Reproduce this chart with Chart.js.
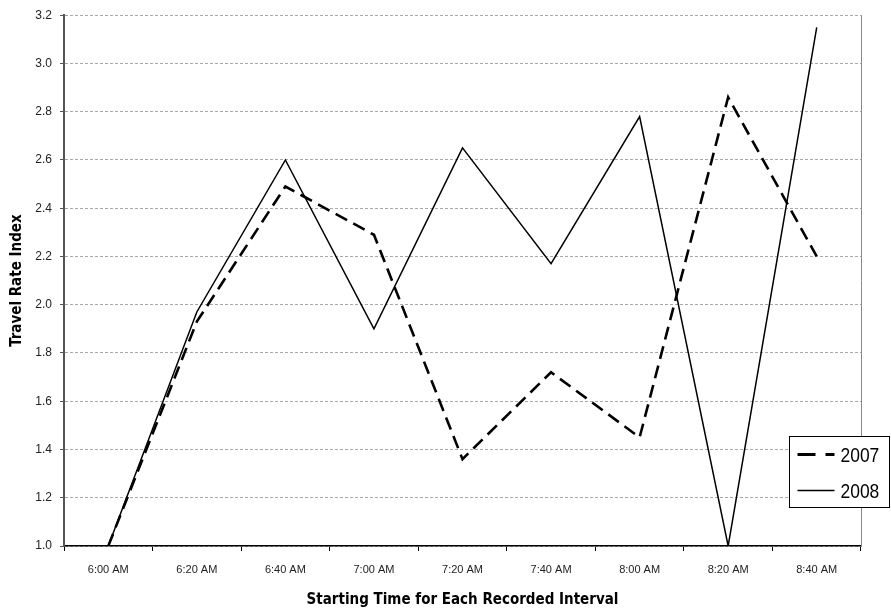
<!DOCTYPE html>
<html>
<head>
<meta charset="utf-8">
<script src="https://cdn.jsdelivr.net/npm/chart.js@4"></script>
<style>
  html, body { margin: 0; padding: 0; background: #fff; }
  #wrap { width: 891px; height: 614px; position: relative; }
</style>
</head>
<body>
<div id="wrap"><canvas id="chartTri"></canvas></div>
<script>
// ── Data ─────────────────────────────────
const timeLabels = ['6:00 AM', '6:20 AM', '6:40 AM', '7:00 AM', '7:20 AM', '7:40 AM', '8:00 AM', '8:20 AM', '8:40 AM'];
const tri2007    = [1.00, 1.93, 2.49, 2.29, 1.36, 1.72, 1.45, 2.86, 2.20];
const tri2008    = [1.00, 1.97, 2.60, 1.90, 2.65, 2.17, 2.78, 1.00, 3.15];
const yMin = 1.0, yMax = 3.2, yStep = 0.2;

const condensed = "'DejaVu Sans Condensed', 'DejaVu Sans', sans-serif";
const tickFont  = "'Liberation Sans', Arial, sans-serif";

// ── Plugin: right border + boxed legend ──
const frameLegend = {
    id: 'frameLegend',
    beforeDatasetsDraw(chart) {
        const a = chart.chartArea, ctx = chart.ctx;
        ctx.save();
        ctx.strokeStyle = '#8a8a8a';
        ctx.lineWidth = 1;
        ctx.beginPath();
        ctx.moveTo(Math.round(a.right) + 0.5, a.top);
        ctx.lineTo(Math.round(a.right) + 0.5, a.bottom);
        ctx.stroke();
        ctx.restore();
    },
    afterDraw(chart) {
        const ctx = chart.ctx;
        const bx = 789.5, by = 436.5, bw = 100, bh = 71;
        ctx.save();
        ctx.fillStyle = '#fff';
        ctx.fillRect(bx, by, bw, bh);
        ctx.strokeStyle = '#000';
        ctx.lineWidth = 1;
        ctx.strokeRect(bx, by, bw, bh);

        chart.data.datasets.forEach(function(ds, i) {
            const y = by + 18 + i * 36;
            ctx.strokeStyle = ds.borderColor;
            ctx.lineWidth = i === 0 ? 3 : ds.borderWidth;
            ctx.setLineDash(i === 0 ? [18, 10] : []);
            ctx.beginPath();
            ctx.moveTo(bx + 8, y);
            ctx.lineTo(bx + 45, y);
            ctx.stroke();
            ctx.setLineDash([]);

            // narrow type: Liberation Sans squeezed horizontally
            ctx.save();
            ctx.translate(bx + 51, y + 2);
            ctx.scale(0.83, 1);
            ctx.fillStyle = '#000';
            ctx.font = "21px 'Liberation Sans', Arial, sans-serif";
            ctx.textBaseline = 'middle';
            ctx.textAlign = 'left';
            ctx.fillText(ds.label, 0, 0);
            ctx.restore();
        });
        ctx.restore();
    }
};

// ── Chart ────────────────────────────────
new Chart(document.getElementById('chartTri'), {
    type: 'line',
    data: {
        labels: timeLabels,
        datasets: [
            {
                label: '2007',
                data: tri2007,
                borderColor: '#000',
                borderWidth: 2.6,
                borderDash: [13, 7],
                pointRadius: 0,
                tension: 0,
                fill: false
            },
            {
                label: '2008',
                data: tri2008,
                borderColor: '#000',
                borderWidth: 1.5,
                pointRadius: 0,
                tension: 0,
                fill: false
            }
        ]
    },
    options: {
        responsive: true,
        maintainAspectRatio: false,
        animation: false,
        layout: { padding: { top: 14, right: 30, left: 0, bottom: 0 } },
        plugins: {
            legend: { display: false },
            tooltip: { enabled: false }
        },
        scales: {
            x: {
                offset: true,
                afterFit: function(scale) { scale.height = 68; },
                grid: {
                    offset: true,
                    drawOnChartArea: false,
                    tickLength: 5,
                    tickColor: '#000'
                },
                border: { color: '#000', width: 1.5 },
                ticks: {
                    font: { family: tickFont, size: 11 },
                    color: '#222',
                    padding: 12,
                    maxRotation: 0,
                    autoSkip: false
                },
                title: {
                    display: true,
                    text: 'Starting Time for Each Recorded Interval',
                    font: { family: condensed, size: 15, weight: 'bold' },
                    color: '#000',
                    padding: { top: 0, bottom: 5 }
                }
            },
            y: {
                min: yMin,
                max: yMax,
                afterFit: function(scale) { scale.width = 64; },
                grid: {
                    color: '#a8a8a8',
                    tickLength: 4,
                    tickColor: '#555'
                },
                border: { color: '#555', width: 2, dash: [3, 2] },
                ticks: {
                    stepSize: yStep,
                    font: { family: tickFont, size: 12 },
                    color: '#222',
                    padding: 8,
                    callback: function(val) { return Number(val).toFixed(1); }
                },
                title: {
                    display: true,
                    text: 'Travel Rate Index',
                    font: { family: condensed, size: 15, weight: 'bold' },
                    color: '#000',
                    padding: { top: 8, bottom: 0 }
                }
            }
        }
    },
    plugins: [frameLegend]
});
</script>
</body>
</html>
